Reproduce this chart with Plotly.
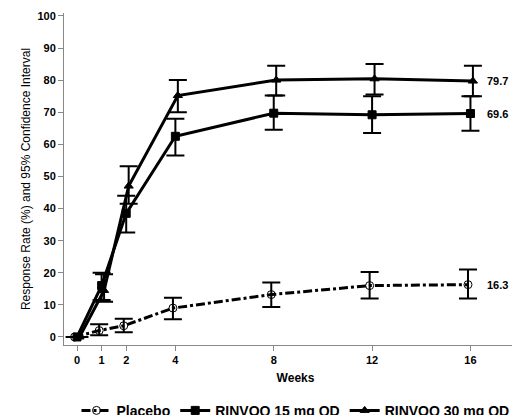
import plotly.graph_objects as go

weeks = [0, 1, 2, 4, 8, 12, 16]
placebo = [0, 2.0, 3.5, 9.0, 13.2, 16.0, 16.3]
placebo_lo = [0, 0.5, 1.5, 5.5, 9.3, 12.0, 12.0]
placebo_hi = [0, 4.0, 5.7, 12.2, 17.0, 20.2, 21.0]
r15 = [0, 16.0, 38.5, 62.5, 69.7, 69.2, 69.6]
r15_lo = [0, 11.5, 32.5, 56.5, 64.5, 63.5, 64.2]
r15_hi = [0, 20.0, 44.0, 68.0, 75.2, 75.0, 75.0]
r30 = [0, 14.5, 47.0, 75.2, 80.0, 80.4, 79.7]
r30_lo = [0, 11.0, 41.5, 70.0, 75.2, 75.5, 75.0]
r30_hi = [0, 19.5, 53.2, 80.0, 84.5, 85.0, 84.5]
offsets = {"p": -0.1, "15": 0.0, "30": 0.1}

fig = go.Figure()
def add(name, y, lo, hi, off, dash, sym, size):
    x = [w + off for w in weeks]
    fig.add_trace(go.Scatter(
        x=x, y=y, name=f"<b>{name}</b>", mode="lines+markers",
        line=dict(color="black", width=3, dash=dash),
        marker=dict(symbol=sym, size=size, color="black",
                    line=dict(color="black", width=1)),
        error_y=dict(type="data", symmetric=False,
                     array=[h - v for h, v in zip(hi, y)],
                     arrayminus=[v - l for v, l in zip(y, lo)],
                     color="black", thickness=2, width=9)))

add("Placebo", placebo, placebo_lo, placebo_hi, offsets["p"], "dashdot", "circle-open", 8)
add("RINVOQ 15 mg QD", r15, r15_lo, r15_hi, offsets["15"], "solid", "square", 8)
add("RINVOQ 30 mg QD", r30, r30_lo, r30_hi, offsets["30"], "solid", "triangle-up", 8)

for yv in [placebo[-1], r15[-1], r30[-1]]:
    fig.add_annotation(x=16.6, y=yv, text=f"<b>{yv}</b>", showarrow=False,
                       xanchor="left", font=dict(size=11, color="black"))

fig.update_layout(
    width=520, height=415, margin=dict(l=56, r=1, t=5, b=78, autoexpand=False),
    plot_bgcolor="white", paper_bgcolor="white",
    font=dict(family="Arial, Liberation Sans", color="black", size=12),
    legend=dict(orientation="h", x=0.5, xanchor="center", y=-0.15, yanchor="top",
                font=dict(size=14), itemwidth=30, entrywidthmode="pixels",
                tracegroupgap=0),
    xaxis=dict(range=[-0.53, 18.3], tickvals=weeks, showline=True, linecolor="#888",
               ticks="outside", tickcolor="#888", ticklen=5, showgrid=False, zeroline=False,
               tickfont=dict(size=11, weight="bold"),
               title=dict(text="<b>Weeks</b>", font=dict(size=12), standoff=8)),
    yaxis=dict(range=[-2.5, 100.9], tickvals=list(range(0, 101, 10)), showline=True,
               linecolor="#888", ticks="outside", tickcolor="#888", ticklen=5,
               showgrid=False, zeroline=False, tickfont=dict(size=11, weight="bold"),
               title=dict(text="Response Rate (%) and 95% Confidence Interval",
                          font=dict(size=12), standoff=4)),
)
fig.write_html("out.html")
